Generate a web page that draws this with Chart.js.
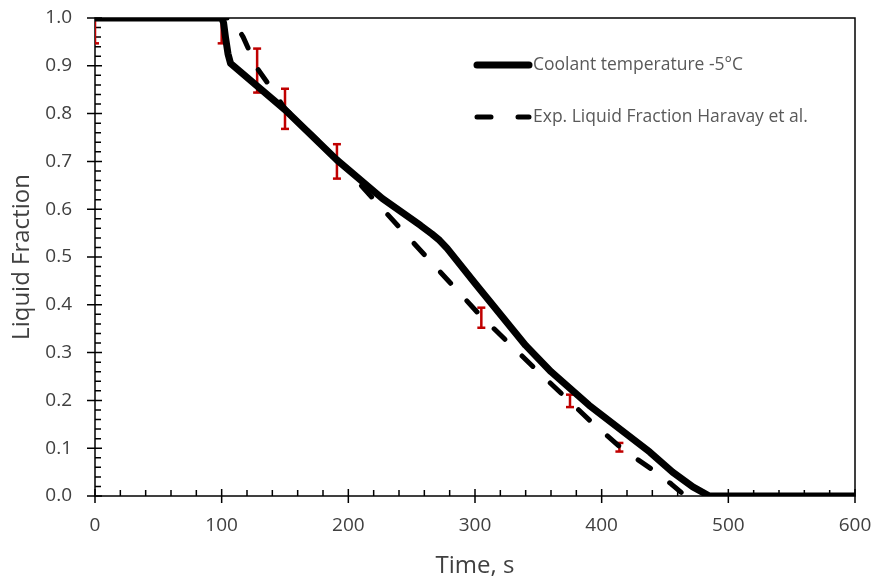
<!DOCTYPE html>
<html>
<head>
<meta charset="utf-8">
<script src="https://cdn.jsdelivr.net/npm/chart.js@4.4.1/dist/chart.umd.min.js"></script>
<style>
  html, body { margin: 0; padding: 0; background: #fff; }
  #wrap { width: 875px; height: 581px; }
</style>
</head>
<body>
<div id="wrap"><canvas id="chart" width="875" height="581"></canvas></div>
<script>
"use strict";

// simulation, coolant -5 C
const simTime = [0, 100, 101.5, 103, 105, 107, 150, 191, 227, 257, 266, 272, 278, 300, 340, 360, 390, 438, 456, 472, 485, 600];
const simFrac = [1.0, 1.0, 0.99, 0.96, 0.925, 0.905, 0.808, 0.703, 0.622, 0.566, 0.548, 0.535, 0.518, 0.445, 0.315, 0.26, 0.19, 0.092, 0.05, 0.019, 0.0, 0.0];

// experiment, Haravay et al.
const expTime = [0, 108, 117, 128, 140, 150, 191, 261, 303, 348, 370, 393, 417, 440, 455, 466];
const expFrac = [1.0, 1.0, 0.96, 0.895, 0.85, 0.81, 0.705, 0.502, 0.381, 0.265, 0.21, 0.152, 0.097, 0.055, 0.025, 0.0];

// error bars
const errTime = [0, 100, 128, 150, 191, 305, 375, 414];
const errFrac = [1.0, 1.0, 0.89, 0.81, 0.70, 0.373, 0.199, 0.102];
const errSize = [0.053, 0.053, 0.046, 0.042, 0.036, 0.021, 0.013, 0.009];

const xTicks = [0, 100, 200, 300, 400, 500, 600];
const yTicks = [0, 0.1, 0.2, 0.3, 0.4, 0.5, 0.6, 0.7, 0.8, 0.9, 1.0];

const legendLabels = ["Coolant temperature -5\u00b0C", "Exp. Liquid Fraction Haravay et al."];

const FONT = "'Open Sans', 'Noto Sans', sans-serif";
const TEXT = "#404040";

function zip(xs, ys) {
    return xs.map((x, i) => ({ x, y: ys[i] }));
}

function errorPoints() {
    const pts = [];
    errTime.forEach((t, i) => {
        pts.push({ x: t, y: errFrac[i] - errSize[i] });
        pts.push({ x: t, y: errFrac[i] + errSize[i] });
        pts.push({ x: t, y: null });
    });
    return pts;
}

// box, major ticks across the axes, minor ticks inside
const framePlugin = {
    id: "frame",
    beforeDatasetsDraw(chart) {
        const { ctx, chartArea: a, scales: { x, y } } = chart;
        ctx.save();
        ctx.strokeStyle = "#000";
        ctx.lineWidth = 1.5;
        ctx.strokeRect(a.left, a.top, a.right - a.left, a.bottom - a.top);
        ctx.beginPath();
        for (let i = 0; i <= 30; i++) {
            const px = x.getPixelForValue(i * 20);
            const major = i % 5 === 0;
            ctx.moveTo(px, a.bottom + (major ? 7 : 0));
            ctx.lineTo(px, a.bottom - (major ? 7 : 6));
        }
        for (let i = 0; i <= 50; i++) {
            const py = y.getPixelForValue(i * 0.02);
            const major = i % 5 === 0;
            ctx.moveTo(a.left - (major ? 8 : 0), py);
            ctx.lineTo(a.left + (major ? 7 : 6), py);
        }
        ctx.stroke();
        ctx.restore();
    }
};

const legendPlugin = {
    id: "insideLegend",
    afterDraw(chart) {
        const { ctx } = chart;
        const x0 = 477, x1 = 529, rows = [65, 117];
        ctx.save();
        ctx.lineCap = "round";
        ctx.strokeStyle = "#000";

        ctx.lineWidth = 7;
        ctx.beginPath();
        ctx.moveTo(x0, rows[0]);
        ctx.lineTo(x1, rows[0]);
        ctx.stroke();

        ctx.lineWidth = 5;
        ctx.beginPath();
        ctx.moveTo(x0, rows[1]);
        ctx.lineTo(x0 + 14, rows[1]);
        ctx.moveTo(x1 - 11, rows[1]);
        ctx.lineTo(x1, rows[1]);
        ctx.stroke();

        ctx.fillStyle = "#595959";
        ctx.font = "17.5px " + FONT;
        ctx.textBaseline = "middle";
        ctx.textAlign = "left";
        legendLabels.forEach((t, i) => ctx.fillText(t, x1 + 4, rows[i]));
        ctx.restore();
    }
};

const ctx = document.getElementById("chart").getContext("2d");
new Chart(ctx, {
    type: "line",
    data: {
        datasets: [
            {
                label: legendLabels[0],
                data: zip(simTime, simFrac),
                borderColor: "#000",
                borderWidth: 7,
                borderCapStyle: "round",
                borderJoinStyle: "round",
                pointRadius: 0,
                tension: 0,
                clip: 0,
                order: 1
            },
            {
                label: legendLabels[1],
                data: zip(expTime, expFrac),
                borderColor: "#000",
                borderWidth: 5,
                borderDash: [15, 24],
                borderCapStyle: "round",
                borderJoinStyle: "round",
                pointRadius: 0,
                tension: 0,
                clip: 0,
                order: 2
            },
            {
                label: "error",
                data: errorPoints(),
                borderColor: "#C00000",
                borderWidth: 2.5,
                pointStyle: "line",
                pointRadius: 4,
                pointBorderWidth: 2.5,
                pointBorderColor: "#C00000",
                spanGaps: false,
                clip: 0,
                order: 3
            }
        ]
    },
    options: {
        responsive: false,
        animation: false,
        events: [],
        layout: { padding: { left: 0, right: 20, top: 18, bottom: 0 } },
        plugins: {
            legend: { display: false },
            tooltip: { enabled: false }
        },
        scales: {
            x: {
                type: "linear",
                min: 0,
                max: 600,
                afterBuildTicks: (s) => { s.ticks = xTicks.map((v) => ({ value: v })); },
                afterFit: (s) => {
                    s.height = 85;
                    s.paddingLeft = 0;
                    s.paddingRight = 0;
                },
                grid: { display: false },
                border: { display: false },
                ticks: { color: TEXT, font: { family: FONT, size: 19 }, padding: 10 },
                title: {
                    display: true,
                    text: "Time, s",
                    color: TEXT,
                    font: { family: FONT, size: 24 },
                    padding: { top: 0, bottom: 0 }
                }
            },
            y: {
                type: "linear",
                min: 0,
                max: 1,
                afterBuildTicks: (s) => { s.ticks = yTicks.map((v) => ({ value: v })); },
                afterFit: (s) => {
                    s.width = 95;
                    s.paddingTop = 0;
                    s.paddingBottom = 0;
                },
                grid: { display: false },
                border: { display: false },
                ticks: {
                    color: TEXT,
                    font: { family: FONT, size: 19 },
                    padding: 15,
                    callback: (v) => Number(v).toFixed(1)
                },
                title: {
                    display: true,
                    text: "Liquid Fraction",
                    color: TEXT,
                    font: { family: FONT, size: 24 },
                    padding: { top: 8, bottom: 0 }
                }
            }
        }
    },
    plugins: [framePlugin, legendPlugin]
});
</script>
</body>
</html>
